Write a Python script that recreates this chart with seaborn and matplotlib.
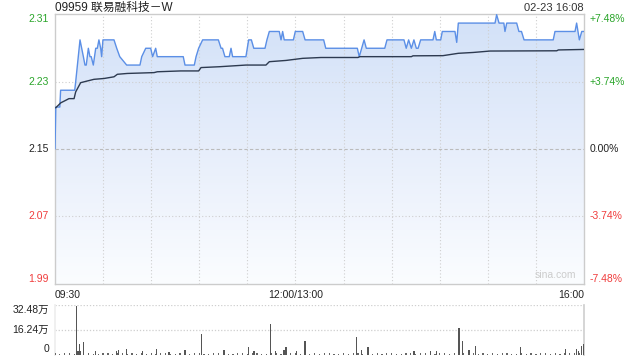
import numpy as np
import pandas as pd
import matplotlib
matplotlib.use("Agg")
import matplotlib.pyplot as plt
import seaborn as sns
from matplotlib.patches import PathPatch
from matplotlib.colors import LinearSegmentedColormap

# ---------------- data ----------------
title = "09959 联易融科技－W"
stamp = "02-23 16:08"
prev_close = 2.15
price_ticks = [2.31, 2.23, 2.15, 2.07, 1.99]
pct_ticks = ["+7.48%", "+3.74%", "0.00%", "-3.74%", "-7.48%"]
time_labels = ["09:30", "12:00/13:00", "16:00"]
vol_ticks = [32.48, 16.24, 0]
vol_tick_labels = ["32.48万", "16.24万", "0"]

price_min = [0, 0.5, 3.0, 3.5, 12.3, 12.9, 15.6, 17.7, 18.7, 19.5, 20.8, 21.8, 22.6,
             23.9, 25.4, 26.4, 27.4, 28.5, 29.1, 29.9, 36.8, 38.5, 40.4, 44.7, 53.0,
             54.1, 56.6, 59.7, 60.9, 62.8, 63.8, 80.0, 81.1, 86.9, 88.0, 89.6, 92.1,
             101.9, 103.6, 104.5, 106.0, 108.7, 109.8, 110.8, 119.1, 120.8, 122.5,
             124.0, 131.0, 132.2, 133.7, 139.9, 141.0, 142.0, 143.0, 148.7, 149.9,
             154.5, 156.0, 167.6, 168.9, 188.6, 189.8, 192.8, 194.2, 205.7, 207.1,
             217.7, 219.1, 220.6, 222.3, 223.9, 225.4, 226.5, 228.1, 235.8, 236.9,
             237.9, 240.6, 241.6, 249.5, 250.6, 251.6, 274.5, 275.5, 277.0, 280.0,
             280.7, 281.8, 288.0, 289.4, 291.0, 292.6, 310.8, 311.9, 324.4, 325.4,
             327.1, 328.6, 330]
price_val = [2.15, 2.20, 2.20, 2.22, 2.22, 2.23, 2.28, 2.26, 2.25, 2.25, 2.27, 2.26, 2.26,
             2.25, 2.27, 2.27, 2.28, 2.27, 2.26, 2.28, 2.28, 2.27, 2.26, 2.25, 2.25,
             2.26, 2.27, 2.27, 2.26, 2.27, 2.26, 2.26, 2.25, 2.25, 2.26, 2.27, 2.28,
             2.28, 2.27, 2.27, 2.26, 2.26, 2.27, 2.26, 2.26, 2.28, 2.28,
             2.27, 2.27, 2.28, 2.29, 2.29, 2.28, 2.29, 2.28, 2.28, 2.29,
             2.29, 2.28, 2.28, 2.27, 2.27, 2.26, 2.28, 2.27, 2.27, 2.28,
             2.28, 2.27, 2.28, 2.27, 2.28, 2.27, 2.27, 2.28, 2.28, 2.29,
             2.28, 2.28, 2.29, 2.29, 2.277, 2.30, 2.30, 2.31, 2.30, 2.30,
             2.29, 2.30, 2.30, 2.29, 2.29, 2.28, 2.28, 2.29, 2.29, 2.30,
             2.28, 2.29, 2.29]

avg_min = [0.4, 3.6, 6.7, 8.7, 11.9, 12.9, 16.0, 20.1, 24.3, 30.6, 36.8, 38.9, 45.1,
           61.8, 63.8, 78.4, 89.6, 91.1, 102.5, 119.1, 131.6, 133.7, 144.1, 154.5,
           165.9, 189.0, 190.1, 222.3, 223.3, 242.0, 251.6, 260.9, 271.4, 313.0,
           314.0, 330]
avg_val = [2.199, 2.205, 2.208, 2.210, 2.210, 2.218, 2.229, 2.231, 2.233, 2.234, 2.236,
           2.239, 2.240, 2.241, 2.242, 2.243, 2.243, 2.247, 2.248, 2.250, 2.250, 2.254,
           2.2555, 2.258, 2.259, 2.259, 2.260, 2.260, 2.261, 2.2612, 2.264, 2.265,
           2.2667, 2.267, 2.268, 2.2686]

# notable volume bars (万)
vol_big_min = [13.3, 14.3, 15.2, 16.0, 17.7, 25.2, 38.5, 39.5, 44.5, 54.5, 63.2, 71.1,
               81.1, 91.3, 105.4, 120.6, 124.1, 134.3, 137.4, 142.8, 144.1, 150.5,
               156.0, 188.0, 191.1, 195.3, 224.0, 234.1, 237.9, 252.0, 254.1, 258.3,
               262.2, 290.3, 318.3, 325.2, 326.7, 328.3, 330.0]
vol_big_val = [32.0, 2.4, 6.7, 2.4, 8.0, 2.2, 2.4, 2.8, 3.5, 2.2, 3.5, 1.4,
               2.8, 13.2, 2.8, 4.8, 2.4, 19.7, 2.4, 2.8, 4.8, 2.2,
               8.7, 11.5, 2.8, 4.8, 2.2, 2.2, 2.2, 17.1, 8.7, 2.8,
               5.4, 4.8, 3.5, 3.5, 2.4, 5.4, 6.7]
# small background volume bars, one every 3 minutes from 09:30 (万)
vol_small = [1.0, 0.6, 0.8, 1.2, 0.5, 0.9, 0.7, 1.1, 0.6, 0.4, 0.8, 1.3, 0.5, 0.7,
             0.9, 0.6, 1.0, 0.4, 0.8, 0.6, 1.1, 0.5, 0.7, 0.9, 0.4, 0.6, 1.2, 0.8,
             0.5, 0.7, 1.0, 0.6, 0.4, 0.9, 0.7, 1.1, 0.5, 0.6, 0.8, 1.0, 0.4, 0.7,
             0.9, 0.6, 0.5, 1.2, 0.8, 0.6, 0.4, 0.7, 1.0, 0.5, 0.8, 0.6, 0.9, 0.4,
             0.7, 1.1, 0.5, 0.6, 0.8, 0.4, 0.9, 0.7, 0.5, 1.0, 0.6, 0.8, 0.4, 0.7,
             1.2, 0.5, 0.6, 0.9, 0.7, 0.4, 0.8, 1.0, 0.5, 0.6, 0.7, 0.9, 0.4, 0.8,
             0.6, 1.1, 0.5, 0.7, 0.6, 0.9, 0.4, 0.8, 0.5, 0.7, 1.0, 0.6, 0.4, 0.8,
             0.6, 0.9, 0.5, 0.7, 1.1, 0.6, 0.8, 0.5, 0.9, 0.7, 1.2, 1.0, 1.4]

# ---------------- style ----------------
sns.set_theme(style="white")
plt.rcParams["font.family"] = ["Liberation Sans", "Noto Sans CJK SC", "DejaVu Sans"]
plt.rcParams["patch.force_edgecolor"] = False

GREEN = "#2aa52a"
RED = "#f03c3c"
BLACK = "#222222"
LINE = "#5b8fe6"
AVG = "#2d3a50"
SPINE = "#cccccc"
GRID = "#cfcfcf"
FS = 7.5

fig = plt.figure(figsize=(6.4, 3.6), dpi=100)
W, H = 640, 360
L, R = 55, 584
ax = fig.add_axes([L / W, 1 - 284 / H, (R - L) / W, (284 - 14) / H])
axv = fig.add_axes([L / W, 1 - 354.5 / H, (R - L) / W, (354.5 - 305) / H])

ylo = prev_close * (1 - 0.0748)
yhi = prev_close * (1 + 0.0748)
ax.set_xlim(0, 330)
ax.set_ylim(ylo, yhi)

df_p = pd.DataFrame({"m": price_min, "p": price_val})
df_a = pd.DataFrame({"m": avg_min, "p": avg_val})

# gradient fill under price line
fb = ax.fill_between(df_p["m"], df_p["p"], ylo, facecolor="none", edgecolor="none")
path = fb.get_paths()[0]
patch = PathPatch(path, transform=ax.transData, facecolor="none", edgecolor="none")
ax.add_patch(patch)
cmap = LinearSegmentedColormap.from_list("g", ["#fbfdff", "#e7eefb", "#d2e1f8"])
grad = np.linspace(0, 1, 256).reshape(-1, 1)
img = ax.imshow(grad, extent=[0, 330, ylo, yhi], origin="lower", aspect="auto",
                cmap=cmap, zorder=1)
img.set_clip_path(patch)

sns.lineplot(data=df_p, x="m", y="p", ax=ax, color=LINE, lw=1.0, zorder=4,
             estimator=None, sort=False)
sns.lineplot(data=df_a, x="m", y="p", ax=ax, color=AVG, lw=1.0, zorder=5,
             estimator=None, sort=False)

# grid
for xm in range(30, 330, 30):
    ax.axvline(xm, color=GRID, lw=0.8, ls=(0, (1, 2)), zorder=2)
for yv in price_ticks[1:-1]:
    if abs(yv - prev_close) < 1e-9:
        ax.axhline(yv, color="#bbbbbb", lw=0.8, ls=(0, (3, 2)), zorder=2)
    else:
        ax.axhline(yv, color=GRID, lw=0.8, ls=(0, (1, 2)), zorder=2)

for s in ax.spines.values():
    s.set_color(SPINE)
    s.set_linewidth(1.0)
ax.set_xticks([])
ax.set_yticks([])
ax.set_xlabel("")
ax.set_ylabel("")

colors_l = [GREEN, GREEN, BLACK, RED, RED]
tr_l = ax.get_yaxis_transform()
for i, (yv, c) in enumerate(zip(price_ticks, colors_l)):
    va = "center"
    yy = yv
    if i == 0:
        yy = yhi
        va = "top"
    if i == len(price_ticks) - 1:
        yy = ylo
        va = "bottom"
    ax.text(-0.011, yy, f"{yv:.2f}", transform=tr_l,
            ha="right", va=va, color=c, fontsize=FS)
    ax.text(1.011, yy, pct_ticks[i], transform=tr_l, ha="left", va=va,
            color=c, fontsize=FS)

# time labels
ax.text(0, -0.022, time_labels[0], transform=ax.get_xaxis_transform(), ha="left",
        va="top", fontsize=FS, color=BLACK)
ax.text(150, -0.022, time_labels[1], transform=ax.get_xaxis_transform(), ha="center",
        va="top", fontsize=FS, color=BLACK)
ax.text(330, -0.022, time_labels[2], transform=ax.get_xaxis_transform(), ha="right",
        va="top", fontsize=FS, color=BLACK)

fig.text(L / W, 1 - 8 / H, title, ha="left", va="center", fontsize=8.5, color=BLACK)
fig.text(R / W, 1 - 8 / H, stamp, ha="right", va="center", fontsize=8, color="#333333")
ax.text(0.985, 0.015, "sina.com", transform=ax.transAxes, ha="right", va="bottom",
        fontsize=7.5, color="#cccccc")

# volume panel
small_min = list(range(0, 331, 3))[:len(vol_small)]
axv.bar(small_min, vol_small, width=0.75, color="#666666", edgecolor="none",
        linewidth=0, zorder=3)
axv.bar(vol_big_min, vol_big_val, width=0.75, color="#555555", edgecolor="none",
        linewidth=0, zorder=3)
axv.set_xlim(0, 330)
axv.set_ylim(0, 32.48)
for yv in vol_ticks[:2]:
    axv.axhline(yv, color=GRID, lw=0.9, ls=(0, (1, 1.5)), zorder=1)
for k, s in axv.spines.items():
    s.set_visible(k in ("right", "left"))
    s.set_color("#d0d0d0" if k == "right" else "#eeeeee")
axv.set_xticks([])
axv.set_yticks([])
trv = axv.get_yaxis_transform()
axv.text(-0.011, 32.48, vol_tick_labels[0], transform=trv, ha="right", va="top",
         fontsize=FS, color=BLACK)
axv.text(-0.011, 16.24, vol_tick_labels[1], transform=trv, ha="right", va="center",
         fontsize=FS, color=BLACK)
axv.text(-0.011, 0.5, vol_tick_labels[2], transform=trv, ha="right", va="bottom",
         fontsize=FS, color=BLACK)

fig.savefig("out.png", dpi=100)
